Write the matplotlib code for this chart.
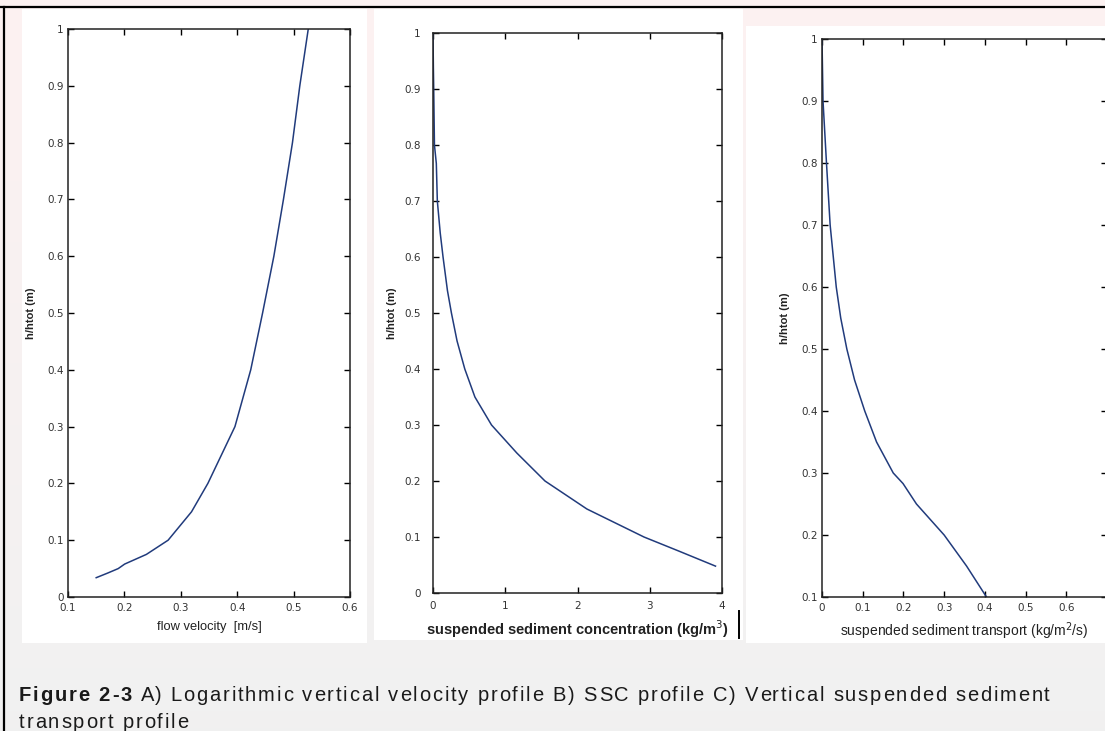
import matplotlib.pyplot as plt
import matplotlib.patches as mpatches
from matplotlib.font_manager import FontProperties
from matplotlib.ticker import FormatStrFormatter
import numpy as np

# ---------------------------------------------------------------------------
# data
# A) flow velocity profile
velocity = [0.150, 0.170, 0.189, 0.2005, 0.239, 0.2775, 0.319, 0.348, 0.372,
            0.396, 0.424, 0.445, 0.465, 0.482, 0.498, 0.511, 0.526]
h_vel = [0.034, 0.042, 0.050, 0.058, 0.075, 0.100, 0.150, 0.200, 0.250,
         0.300, 0.400, 0.500, 0.600, 0.700, 0.800, 0.900, 1.000]

# B) suspended sediment concentration profile
ssc = [0.0, 0.005, 0.01, 0.02, 0.046, 0.06, 0.10, 0.139, 0.20, 0.255, 0.333,
       0.44, 0.58, 0.81, 1.16, 1.55, 2.13, 2.92, 3.40, 3.91]
h_ssc = [1.0, 0.94, 0.90, 0.80, 0.767, 0.70, 0.643, 0.60, 0.54, 0.50, 0.45,
         0.40, 0.35, 0.30, 0.25, 0.20, 0.15, 0.10, 0.075, 0.048]

# C) suspended sediment transport profile
sst = [0.0, 0.0025, 0.011, 0.020, 0.035, 0.046, 0.061, 0.080, 0.105, 0.134,
       0.175, 0.199, 0.232, 0.300, 0.355, 0.404]
h_sst = [1.0, 0.90, 0.80, 0.70, 0.60, 0.55, 0.50, 0.45, 0.40, 0.35,
         0.30, 0.283, 0.25, 0.20, 0.15, 0.10]

ticks_a_x = [0.1, 0.2, 0.3, 0.4, 0.5, 0.6]
ticks_b_x = [0, 1, 2, 3, 4]
ticks_c_x = [0, 0.1, 0.2, 0.3, 0.4, 0.5, 0.6, 0.7]
ticks_y = [0, 0.1, 0.2, 0.3, 0.4, 0.5, 0.6, 0.7, 0.8, 0.9, 1]
ticks_c_y = [0.1, 0.2, 0.3, 0.4, 0.5, 0.6, 0.7, 0.8, 0.9, 1]

caption_bold = 'Figure 2-3'
caption_1 = ' A) Logarithmic vertical velocity profile B) SSC profile C) Vertical suspended sediment'
caption_2 = 'transport profile'

# ---------------------------------------------------------------------------
W, H = 1105, 731
fig = plt.figure(figsize=(W / 100, H / 100), dpi=100)
plt.rcParams['font.family'] = ['Liberation Sans', 'DejaVu Sans']

# page background: pinkish at the top fading to light grey
bg = fig.add_axes([0, 0, 1, 1])
grad = np.linspace(0, 1, 256)[:, None]
top = np.array([0.992, 0.949, 0.949])
bot = np.array([0.945, 0.945, 0.945])
img = top[None, None, :] * (1 - grad[..., None]) + bot[None, None, :] * grad[..., None]
bg.imshow(img, aspect='auto', extent=[0, W, H, 0])
bg.set_xlim(0, W)
bg.set_ylim(H, 0)
bg.axis('off')


def px_rect(x0, y0, x1, y1, **kw):
    bg.add_patch(mpatches.Rectangle((x0, y0), x1 - x0, y1 - y0, **kw))


# white panel backgrounds
px_rect(22, 9, 367, 643, facecolor='white', edgecolor='none')
px_rect(374, 9, 743, 640, facecolor='white', edgecolor='none')
px_rect(746, 26, 1105, 643, facecolor='white', edgecolor='none')

# frame lines
bg.plot([0, W], [7, 7], color='black', lw=1.6)
bg.plot([4, 4], [7, H], color='black', lw=1.6)
bg.plot([739, 739], [611, 638], color='black', lw=1.4)


def frac(x0, y0, x1, y1):
    return [x0 / W, 1 - y1 / H, (x1 - x0) / W, (y1 - y0) / H]


line_c = '#213b7c'
lab_c = '#222222'


def style(ax, ypad=3, xpad=4):
    ax.tick_params(direction='in', length=4, width=1, top=True, right=True,
                   labelsize=7.5, labelcolor='#333333')
    ax.tick_params(axis='y', pad=ypad)
    ax.tick_params(axis='x', pad=xpad)
    for lab in ax.get_xticklabels() + ax.get_yticklabels():
        lab.set_family('DejaVu Sans')
    for s in ax.spines.values():
        s.set_linewidth(1.1)
        s.set_color('#222222')
    ax.set_facecolor('white')
    ax.xaxis.set_major_formatter(FormatStrFormatter('%g'))
    ax.yaxis.set_major_formatter(FormatStrFormatter('%g'))


# A) velocity
axA = fig.add_axes(frac(68, 29, 350, 597))
axA.plot(velocity, h_vel, color=line_c, lw=1.1)
axA.set_xlim(0.1, 0.6)
axA.set_ylim(0, 1)
axA.set_xticks(ticks_a_x)
axA.set_yticks(ticks_y)
style(axA)
axA.set_xlabel('flow velocity  [m/s]', fontsize=9.3, color=lab_c, labelpad=6)
axA.set_ylabel('h/htot (m)', fontsize=8, color=lab_c, labelpad=8, fontweight='bold')

# B) concentration
axB = fig.add_axes(frac(433, 33, 722, 593))
axB.plot(ssc, h_ssc, color=line_c, lw=1.1)
axB.set_xlim(0, 4)
axB.set_ylim(0, 1)
axB.set_xticks(ticks_b_x)
axB.set_yticks(ticks_y)
style(axB, ypad=9, xpad=6)
axB.set_xlabel('suspended sediment concentration (kg/m$^3$)', fontsize=10.5,
               color=lab_c, labelpad=5, fontweight='bold')
axB.set_ylabel('h/htot (m)', fontsize=8, color=lab_c, labelpad=5, fontweight='bold')

# C) transport
axC = fig.add_axes(frac(822, 39, 1107, 597))
axC.plot(sst, h_sst, color=line_c, lw=1.1)
axC.set_xlim(0, 0.7)
axC.set_ylim(0.1, 1)
axC.set_xticks(ticks_c_x)
axC.set_yticks(ticks_c_y)
style(axC)
axC.set_xticklabels(['%g' % t for t in ticks_c_x[:-1]] + [''])
for lab in axC.get_xticklabels():
    lab.set_family('DejaVu Sans')
axC.set_xlabel('suspended sediment transport (kg/m$^2$/s)', fontsize=10,
               color=lab_c, labelpad=6)
axC.set_ylabel('h/htot (m)', fontsize=8, color=lab_c, labelpad=8, fontweight='bold')

# caption, drawn glyph by glyph to get the letter spacing of the original
fig.canvas.draw()
renderer = fig.canvas.get_renderer()


def spaced_text(x, y, s, prop, spacing, color='#1a1a1a'):
    bar = renderer.get_text_width_height_descent('|', prop, ismath=False)[0]
    for i, ch in enumerate(s):
        if ch != ' ':
            w = renderer.get_text_width_height_descent(s[:i] + '|', prop, ismath=False)[0] - bar
            if i == 0:
                w = 0
            fig.text((x + w + i * spacing) / W, 1 - y / H, ch, fontproperties=prop,
                     color=color, va='baseline', ha='left')
    full = renderer.get_text_width_height_descent(s + '|', prop, ismath=False)[0] - bar
    return x + full + len(s) * spacing


fs = 14.5
p_bold = FontProperties(family='Liberation Sans', weight='bold', size=fs)
p_reg = FontProperties(family='Liberation Sans', size=fs)
spacing = 1.8
x_end = spaced_text(19, 701, caption_bold, p_bold, spacing)
spaced_text(x_end, 701, caption_1, p_reg, spacing)
spaced_text(19, 728, caption_2, p_reg, spacing)

fig.savefig('out.png', dpi=100)
